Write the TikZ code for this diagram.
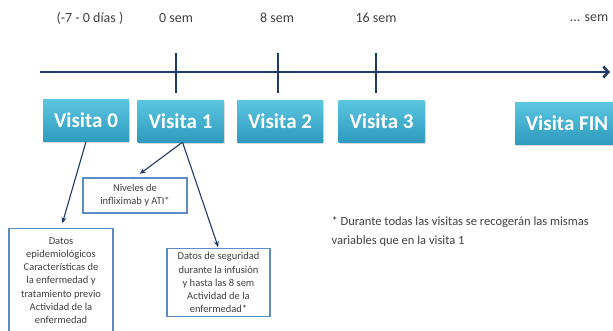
\documentclass[tikz,border=0pt]{standalone}
\usepackage{fontspec}
\setmainfont{Carlito}
\usetikzlibrary{positioning}
\usetikzlibrary{shadows,arrows.meta}
\definecolor{navy}{HTML}{1F3A68}
\definecolor{visitop}{HTML}{5CC6E0}
\definecolor{visibot}{HTML}{2E9BBE}
\definecolor{boxline}{HTML}{5B8BC9}
\definecolor{txtgray}{HTML}{404040}

\begin{document}
\begin{tikzpicture}[x=1pt,y=-1pt,
  visita/.style={top color=visitop,bottom color=visibot,minimum width=86pt,minimum height=42pt,
    text=white,font=\fontsize{21}{23}\selectfont\bfseries,inner sep=2pt,
    drop shadow={shadow xshift=1pt,shadow yshift=-1.5pt,opacity=0.3}},
  infobox/.style={draw=boxline,line width=1.2pt,fill=white,align=center,text=txtgray,
    font=\fontsize{10.5}{13.2}\selectfont,inner sep=4pt},
  weeklabel/.style={text=txtgray,font=\fontsize{14}{16}\selectfont},
  link/.style={navy,line width=1.1pt,-{Stealth[length=6pt,width=5pt]},shorten >=1pt}]
 \useasboundingbox (0,0) rectangle (613,330);
 % timeline
 \draw[navy,line width=2.5pt,-{Straight Barb[length=5pt,width=11pt]}](40,72)--(610,72);
 \draw[navy,line width=2pt](176,53)--(176,93);
 \draw[navy,line width=2pt](278,53)--(278,93);
 \draw[navy,line width=2pt](376,53)--(376,93);
 \node[weeklabel] (lab0) at (90,18) {(-7 - 0 días )};
 \node[weeklabel] (lab1) at (176,18) {0 sem};
 \node[weeklabel] (lab2) at (277,18) {8 sem};
 \node[weeklabel] (lab3) at (376,18) {16 sem};
 \node[weeklabel] (labfin) at (589,18) {... sem};
 % visitas
 \node[visita] (v0) at (86,120.5) {Visita 0};
 \node[visita] (v1) at (180.5,121) {Visita 1};
 \node[visita] (v2) at (280,121) {Visita 2};
 \node[visita] (v3) at (381.5,121) {Visita 3};
 \node[visita,minimum width=104pt] (vfin) at (567,123) {Visita FIN};
 % datos
 \node[infobox,anchor=north,minimum width=104pt,minimum height=104pt] (datos) at (61,228)
   {Datos\\epidemiológicos\\Características de\\la enfermedad\ y\\tratamiento previo\\Actividad de la\\enfermedad};
 \node[infobox,minimum width=104pt,minimum height=35pt] (niveles) at (135,195.5)
   {Niveles de\\infliximab y ATI*};
 \node[infobox,anchor=north,minimum width=103pt] (seguridad) at (218.5,248)
   {Datos de seguridad\\durante la infusión\\y hasta las 8 sem\\Actividad de la\\enfermedad*};
 \node[text=txtgray,font=\fontsize{12.5}{19}\selectfont,anchor=north west,align=left] (nota) at (328,213)
   {* Durante todas las visitas se recogerán las mismas\\variables que en la visita 1};
 \draw[link,shorten >=5pt](v0.south)--(datos.north);
 \draw[link,shorten >=6pt]([xshift=2pt]v1.south)--(niveles.north);
 \draw[link]([xshift=2pt]v1.south)--(seguridad.north);
\end{tikzpicture}
\end{document}
